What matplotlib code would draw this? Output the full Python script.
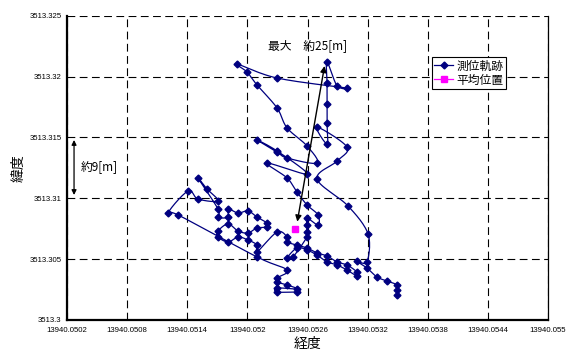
import numpy as np
import matplotlib.pyplot as plt
from matplotlib.lines import Line2D

plt.rcParams['font.family'] = ['Noto Sans CJK JP', 'DejaVu Sans']

# GPS fixes (longitude / latitude) in recording order
lon = [13940.052495, 13940.052296, 13940.052296, 13940.052495, 13940.052396,
       13940.052296, 13940.052296, 13940.052396, 13940.052096, 13940.051308,
       13940.051208, 13940.051408, 13940.051507, 13940.051707, 13940.051597,
       13940.051507, 13940.051707, 13940.051707, 13940.051807, 13940.051807,
       13940.051907, 13940.052006, 13940.052096, 13940.052196, 13940.052196,
       13940.052096, 13940.052006, 13940.051907, 13940.051807, 13940.051707,
       13940.051707, 13940.051807, 13940.051907, 13940.052006, 13940.052096,
       13940.052096, 13940.052296, 13940.052396, 13940.052396, 13940.052495,
       13940.052595, 13940.052695, 13940.052795, 13940.052895, 13940.052994,
       13940.053094, 13940.053094, 13940.052994, 13940.052895, 13940.052795,
       13940.052695, 13940.052595, 13940.052495, 13940.052396, 13940.052455,
       13940.052595, 13940.052595, 13940.052595, 13940.052595, 13940.052705,
       13940.052705, 13940.052595, 13940.052495, 13940.052396, 13940.052196,
       13940.052595, 13940.052296, 13940.052096, 13940.052296, 13940.052396,
       13940.052695, 13940.052595, 13940.052396, 13940.052296, 13940.052096,
       13940.051996, 13940.051897, 13940.052296, 13940.052994, 13940.052895,
       13940.052795, 13940.052795, 13940.052795, 13940.052795, 13940.052795,
       13940.052695, 13940.052994, 13940.052895, 13940.052695, 13940.053004,
       13940.053204, 13940.053194, 13940.053094, 13940.053194, 13940.053294,
       13940.053394, 13940.053493, 13940.053493, 13940.053493]
lat = [3513.30230, 3513.30230, 3513.30263, 3513.30255, 3513.30288,
       3513.30312, 3513.30345, 3513.30411, 3513.30518, 3513.30863,
       3513.30879, 3513.31060, 3513.30994, 3513.30978, 3513.31076,
       3513.31167, 3513.30912, 3513.30846, 3513.30846, 3513.30912,
       3513.30879, 3513.30896, 3513.30846, 3513.30797, 3513.30764,
       3513.30756, 3513.30715, 3513.30731, 3513.30789, 3513.30731,
       3513.30682, 3513.30641, 3513.30682, 3513.30657, 3513.30616,
       3513.30559, 3513.30723, 3513.30682, 3513.30641, 3513.30616,
       3513.30592, 3513.30551, 3513.30526, 3513.30477, 3513.30452,
       3513.30394, 3513.30362, 3513.30411, 3513.30452, 3513.30477,
       3513.30534, 3513.30575, 3513.30592, 3513.30509, 3513.30518,
       3513.30682, 3513.30723, 3513.30781, 3513.30838, 3513.30781,
       3513.30863, 3513.30945, 3513.31052, 3513.31167, 3513.31290,
       3513.31200, 3513.31389, 3513.31479, 3513.31380, 3513.31331,
       3513.31290, 3513.31430, 3513.31578, 3513.31742, 3513.31931,
       3513.32038, 3513.32103, 3513.31988, 3513.31906, 3513.31923,
       3513.32120, 3513.31947, 3513.31775, 3513.31619, 3513.31446,
       3513.31586, 3513.31421, 3513.31306, 3513.31159, 3513.30937,
       3513.30707, 3513.30477, 3513.30485, 3513.30427, 3513.30353,
       3513.30320, 3513.30288, 3513.30246, 3513.30205]

# average position
mean_lon = [13940.05248]
mean_lat = [3513.30750]

x_ticks = [13940.0502, 13940.0508, 13940.0514, 13940.0520, 13940.0526,
           13940.0532, 13940.0538, 13940.0544, 13940.0550]
y_ticks = [3513.300, 3513.305, 3513.310, 3513.315, 3513.320, 3513.325]

NAVY = '#000080'
PINK = '#FF00FF'


def smooth_path(xs, ys, n=14):
    """Bezier smoothing through every point (Catmull-Rom style)."""
    x0, y0 = xs[0], ys[0]
    p = np.column_stack([np.asarray(xs) - x0, np.asarray(ys) - y0])
    p = np.vstack([p[0], p, p[-1]])
    t = np.linspace(0, 1, n, endpoint=False)[:, None]
    out = []
    for i in range(1, len(p) - 2):
        a, b, c, d = p[i - 1], p[i], p[i + 1], p[i + 2]
        c1 = b + (c - a) / 6
        c2 = c - (d - b) / 6
        out.append((1 - t) ** 3 * b + 3 * (1 - t) ** 2 * t * c1
                   + 3 * (1 - t) * t ** 2 * c2 + t ** 3 * c)
    out.append(p[-2][None])
    out = np.vstack(out)
    return out[:, 0] + x0, out[:, 1] + y0


fig = plt.figure(figsize=(5.69, 3.53), dpi=100)
ax = fig.add_axes([0.1178, 0.0935, 0.8453, 0.862])

sx, sy = smooth_path(lon, lat)
ax.plot(sx, sy, color=NAVY, lw=0.9, zorder=3)
ax.plot(lon, lat, ls='none', marker='D', ms=3.5, color=NAVY, zorder=4)
ax.plot(mean_lon, mean_lat, ls='none', marker='s', ms=4.5, color=PINK, zorder=5)

ax.set_xlim(x_ticks[0], x_ticks[-1])
ax.set_ylim(y_ticks[0], y_ticks[-1])
ax.set_xticks(x_ticks)
ax.set_yticks(y_ticks)
ax.set_xticklabels([f'{v:.4f}'.rstrip('0') for v in x_ticks],
                   family='Liberation Sans', fontsize=5.6)
ax.set_yticklabels([f'{v:.3f}'.rstrip('0') for v in y_ticks],
                   family='Liberation Sans', fontsize=5.6)
ax.tick_params(length=0)
ax.tick_params(axis='x', pad=5)
ax.tick_params(axis='y', pad=4)

ax.grid(True, color='black', linestyle=(0, (7, 4)), linewidth=0.8)
ax.set_axisbelow(True)
for side in ('left', 'bottom'):
    ax.spines[side].set_linewidth(1.6)
ax.spines['right'].set_linewidth(0.9)
ax.spines['top'].set_visible(False)

ax.set_xlabel('経度', fontsize=10, labelpad=2)
ax.set_ylabel('緯度', fontsize=10, labelpad=3)

# maximum spread arrow
ax.annotate('', xy=(13940.05277, 3513.32087), xytext=(13940.052498, 3513.30808),
            arrowprops=dict(arrowstyle='<|-|>', color='black', lw=1.0,
                            mutation_scale=9, shrinkA=0, shrinkB=0), zorder=6)
ax.text(0.417, 0.901, '最大　約25[m]', transform=ax.transAxes,
        fontsize=8.5, ha='left', va='center')

# vertical spread arrow
ax.annotate('', xy=(13940.05027, 3513.31479), xytext=(13940.05027, 3513.31027),
            arrowprops=dict(arrowstyle='<|-|>', color='black', lw=0.9,
                            mutation_scale=7, shrinkA=0, shrinkB=0), zorder=6)
ax.text(0.029, 0.504, '約9[m]', transform=ax.transAxes,
        fontsize=8.5, ha='left', va='center')

handles = [Line2D([], [], color=NAVY, lw=0.9, marker='D', ms=3.5),
           Line2D([], [], color=PINK, lw=0.9, marker='s', ms=4)]
leg = fig.legend(handles, ['測位軌跡', '平均位置'], loc='upper left',
                 bbox_to_anchor=(432 / 569, 1 - 57 / 353), fontsize=8.5,
                 frameon=True, fancybox=False, framealpha=1, edgecolor='black',
                 handlelength=1.6, handletextpad=0.3, borderpad=0.2,
                 labelspacing=0.1, borderaxespad=0)
leg.get_frame().set_linewidth(0.8)

fig.savefig('out.png', dpi=100)
